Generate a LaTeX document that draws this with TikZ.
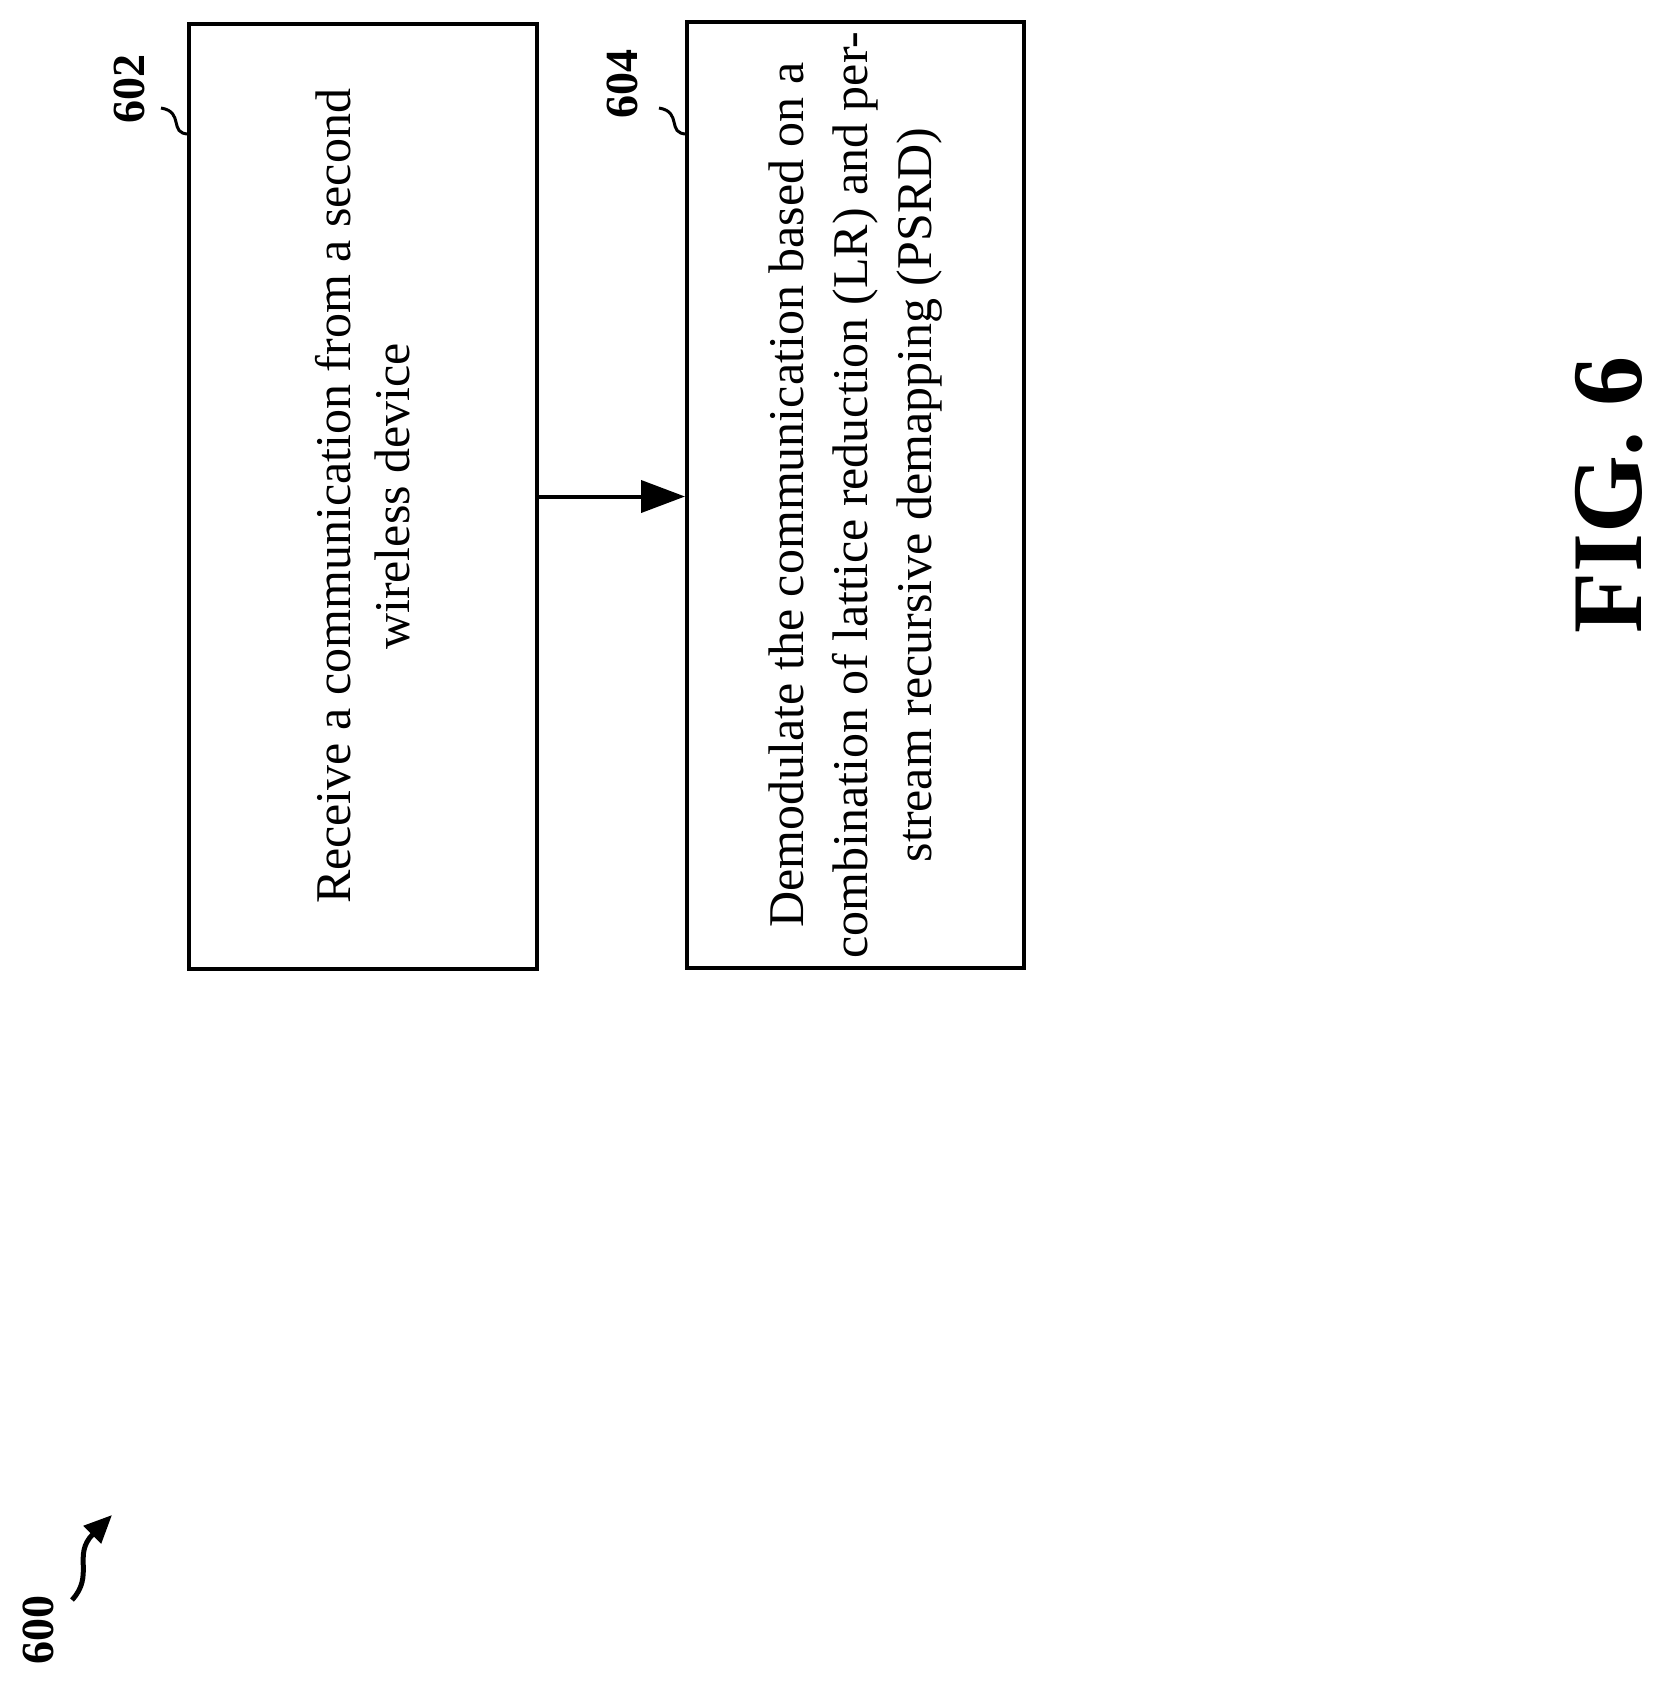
\documentclass[tikz,border=0pt]{standalone}
\usepackage{fontspec}
\setmainfont{Liberation Serif}
\usetikzlibrary{arrows.meta,positioning}
\tikzset{
  stepbox/.style={draw,line width=2pt,rotate=90,align=center,inner sep=0pt,
    font=\fontsize{25}{29.5}\selectfont},
  ref/.style={rotate=90,font=\fontsize{23}{23}\bfseries},
  squig/.style={line width=1.5pt},
}
\begin{document}
\begin{tikzpicture}[x=0.5pt,y=-0.5pt]
  \useasboundingbox (0,0) rectangle (1666,1688);

  \node[stepbox,minimum width=472.5pt,minimum height=174pt] (b602) at (363,496.5)
    {Receive a communication from a second\\wireless device};
  \node[stepbox,minimum width=473pt,minimum height=168.5pt,
    font=\fontsize{25}{32}\selectfont] (b604) at (855.5,495)
    {Demodulate the communication based on a\\combination of lattice reduction (LR) and per-\\stream recursive demapping (PSRD)};

  \draw[line width=2pt,-{Triangle[length=22pt,width=16pt]}]
    (b602.south) -- (b602.south -| b604.north); %% 602 -> 604

  %% reference numerals
  \node[ref] (n602) at (129,89) {602};
  \node[ref] (n604) at (622,84) {604};
  \node[ref] (n600) at (38,1630) {600};
  \node[rotate=90,font=\fontsize{50}{50}\bfseries] (fig) at (1609,495) {FIG. 6};

  \coordinate (c602) at (189,134);
  \coordinate (c604) at (687,134);
  \draw[squig] (161,108) .. controls (185,112) and (168,134) .. (c602);
  \draw[squig] (659,108) .. controls (683,112) and (666,134) .. (c604);

  \coordinate (s600) at (72,1600);
  \coordinate (t600) at (112,1515);
  \draw[line width=2.5pt,-{Triangle[length=14pt,width=12pt]}]
    (s600) .. controls (95,1575) and (72,1555) .. (t600);
\end{tikzpicture}
\end{document}
